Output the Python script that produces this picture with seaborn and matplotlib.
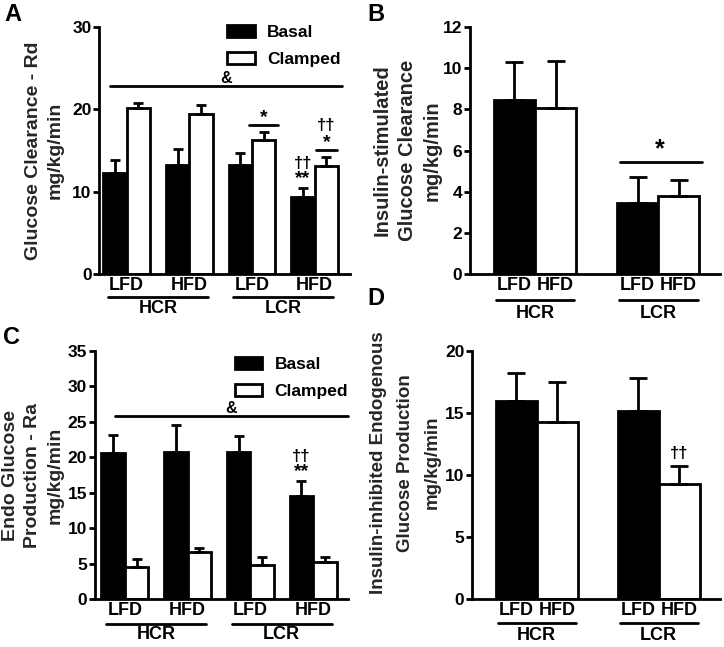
import pandas as pd
import matplotlib.pyplot as plt
import seaborn as sns

sns.set_style('ticks')
plt.rcParams['font.family'] = ['Liberation Sans', 'DejaVu Sans']
plt.rcParams['font.weight'] = 'bold'
plt.rcParams['axes.labelweight'] = 'bold'
plt.rcParams['axes.linewidth'] = 2
plt.rcParams['axes.edgecolor'] = 'black'
plt.rcParams['text.color'] = 'black'
plt.rcParams['xtick.color'] = 'black'
plt.rcParams['ytick.color'] = 'black'

# categories
groups = ['HCR-LFD', 'HCR-HFD', 'LCR-LFD', 'LCR-HFD']
diet_ticks = ['LFD', 'HFD', 'LFD', 'HFD']
lines = ['HCR', 'LCR']

# A: glucose clearance (Rd), mean and SEM
rd_basal = [12.3, 13.2, 13.2, 9.3]
rd_basal_err = [1.6, 2.0, 1.5, 1.1]
rd_clamped = [20.2, 19.5, 16.3, 13.1]
rd_clamped_err = [0.6, 1.1, 1.0, 1.1]

# B: insulin-stimulated glucose clearance
isgc_lfd = [8.44, 3.46]
isgc_lfd_err = [1.86, 1.26]
isgc_hfd = [8.09, 3.78]
isgc_hfd_err = [2.26, 0.78]

# C: endogenous glucose production (Ra)
ra_basal = [20.55, 20.8, 20.7, 14.5]
ra_basal_err = [2.55, 3.7, 2.3, 2.1]
ra_clamped = [4.6, 6.6, 4.8, 5.2]
ra_clamped_err = [1.0, 0.6, 1.1, 0.8]

# D: insulin-inhibited endogenous glucose production
iiegp_lfd = [15.95, 15.2]
iiegp_lfd_err = [2.25, 2.6]
iiegp_hfd = [14.3, 9.3]
iiegp_hfd_err = [3.2, 1.4]


def bars(ax, cats, hue_names, v1, v2, e1, e2, width, capsize):
    df = pd.DataFrame({
        'cat': cats + cats,
        'hue': [hue_names[0]] * len(cats) + [hue_names[1]] * len(cats),
        'val': v1 + v2,
    })
    sns.barplot(data=df, x='cat', y='val', hue='hue', order=cats,
                hue_order=hue_names, palette=['black', 'white'],
                saturation=1, edgecolor='black', linewidth=2, width=width,
                errorbar=None, legend=False, ax=ax)
    for cont, errs in zip(ax.containers, [e1, e2]):
        for bar, e in zip(cont, errs):
            ax.errorbar(bar.get_x() + bar.get_width() / 2, bar.get_height(),
                        yerr=[[0], [e]], fmt='none', ecolor='black',
                        elinewidth=2, capsize=capsize, capthick=2, zorder=3)


def style(ax, ylim, yticks, xlim):
    ax.set_ylim(*ylim)
    ax.set_yticks(yticks)
    ax.set_xlim(*xlim)
    sns.despine(ax=ax)
    ax.tick_params(axis='y', length=4, width=2, labelsize=12.5, pad=1.5)
    ax.tick_params(axis='x', length=0, labelsize=13, pad=2)
    ax.set_xlabel('')


def bold_ticks(ax):
    for t in ax.get_xticklabels() + ax.get_yticklabels():
        t.set_fontweight('bold')


def group_labels(ax, spans, names, yline, ytext):
    trans = ax.get_xaxis_transform()
    for (x0, x1), name in zip(spans, names):
        ax.plot([x0, x1], [yline, yline], color='black', lw=2,
                transform=trans, clip_on=False)
        ax.text((x0 + x1) / 2, ytext, name, transform=trans, ha='center',
                va='center', fontsize=13)


def bar_x(ax, hue_idx, cat_idx):
    b = ax.containers[hue_idx][cat_idx]
    return b.get_x() + b.get_width() / 2


def hline(ax, x0, x1, y):
    ax.plot([x0, x1], [y, y], color='black', lw=2, clip_on=False)


fig = plt.figure(figsize=(7.24, 6.47), dpi=100)
axA = fig.add_axes([0.137, 0.5765, 0.346, 0.3815])
axB = fig.add_axes([0.649, 0.5765, 0.345, 0.3815])
axC = fig.add_axes([0.131, 0.074, 0.349, 0.3835])
axD = fig.add_axes([0.652, 0.074, 0.342, 0.3835])

legend_kw = dict(loc='upper left', frameon=False, fontsize=12.5, borderpad=0,
                 borderaxespad=0, handlelength=1.6, handleheight=0.7,
                 handletextpad=0.7, labelspacing=0.7)

# ---- A
bars(axA, groups, ['Basal', 'Clamped'], rd_basal, rd_clamped,
     rd_basal_err, rd_clamped_err, 0.75, 3.6)
style(axA, (0, 30), [0, 10, 20, 30], (-0.44, 3.56))
axA.set_xticks(range(4), diet_ticks)
axA.set_ylabel('Glucose Clearance - Rd\nmg/kg/min', fontsize=14,
               va='center', linespacing=1.35)
axA.yaxis.set_label_coords(-0.219, 0.5)
axA.legend(axA.containers[:2], ['Basal', 'Clamped'],
           bbox_to_anchor=(0.51, 1.01), **legend_kw)
hline(axA, -0.27, 3.43, 22.8)
axA.text(1.58, 22.9, '&', ha='center', va='bottom', fontsize=11.5)
xc = bar_x(axA, 1, 2)
hline(axA, xc - 0.23, xc + 0.23, 18.1)
axA.text(xc, 18.0, '*', ha='center', va='bottom', fontsize=14)
xc = bar_x(axA, 1, 3)
hline(axA, xc - 0.17, xc + 0.17, 15.1)
axA.text(xc, 15.0, '*', ha='center', va='bottom', fontsize=14)
axA.text(xc, 18.1, '††', ha='center', va='center', fontsize=12)
xb = bar_x(axA, 0, 3)
axA.text(xb, 11.6, '**', ha='center', va='center', fontsize=14)
axA.text(xb, 13.4, '††', ha='center', va='center', fontsize=12)
group_labels(axA, [(-0.3, 1.3), (1.7, 3.3)], lines, -0.093, -0.138)
bold_ticks(axA)

# ---- B
bars(axB, lines, ['LFD', 'HFD'], isgc_lfd, isgc_hfd,
     isgc_lfd_err, isgc_hfd_err, 0.67, 6.5)
style(axB, (0, 12), range(0, 13, 2), (-0.53, 1.5))
axB.set_xticks([bar_x(axB, 0, 0), bar_x(axB, 1, 0),
                bar_x(axB, 0, 1), bar_x(axB, 1, 1)], diet_ticks)
axB.set_ylabel('Insulin-stimulated\nGlucose Clearance\nmg/kg/min',
               fontsize=14.5, va='center', linespacing=1.4)
axB.yaxis.set_label_coords(-0.25, 0.5)
hline(axB, 0.69, 1.36, 5.45)
axB.text(1.015, 5.5, '*', ha='center', va='bottom', fontsize=18)
group_labels(axB, [(-0.32, 0.32), (0.68, 1.32)], lines, -0.105, -0.158)
bold_ticks(axB)

# ---- C
bars(axC, groups, ['Basal', 'Clamped'], ra_basal, ra_clamped,
     ra_basal_err, ra_clamped_err, 0.75, 3.6)
style(axC, (0, 35), range(0, 36, 5), (-0.48, 3.55))
axC.set_xticks(range(4), diet_ticks)
axC.set_ylabel('Endo Glucose\nProduction - Ra\nmg/kg/min', fontsize=14,
               va='center', linespacing=1.4)
axC.yaxis.set_label_coords(-0.245, 0.5)
axC.legend(axC.containers[:2], ['Basal', 'Clamped'],
           bbox_to_anchor=(0.553, 0.977), **legend_kw)
hline(axC, -0.16, 3.55, 25.8)
axC.text(1.7, 25.9, '&', ha='center', va='bottom', fontsize=11.5)
xb = bar_x(axC, 0, 3)
axC.text(xb, 18.0, '**', ha='center', va='center', fontsize=14)
axC.text(xb, 20.1, '††', ha='center', va='center', fontsize=12)
group_labels(axC, [(-0.3, 1.3), (1.7, 3.3)], lines, -0.10, -0.141)
bold_ticks(axC)

# ---- D
bars(axD, lines, ['LFD', 'HFD'], iiegp_lfd, iiegp_hfd,
     iiegp_lfd_err, iiegp_hfd_err, 0.67, 6.5)
style(axD, (0, 20), range(0, 21, 5), (-0.53, 1.5))
axD.set_xticks([bar_x(axD, 0, 0), bar_x(axD, 1, 0),
                bar_x(axD, 0, 1), bar_x(axD, 1, 1)], diet_ticks)
axD.set_ylabel('Insulin-inhibited Endogenous\nGlucose Production\nmg/kg/min',
               fontsize=13.5, va='center', linespacing=1.75)
axD.yaxis.set_label_coords(-0.27, 0.55)
axD.text(bar_x(axD, 1, 1), 11.7, '††', ha='center', va='center', fontsize=12)
group_labels(axD, [(-0.32, 0.32), (0.68, 1.32)], lines, -0.097, -0.145)
bold_ticks(axD)

# panel letters
for letter, (x, y) in zip('ABCD', [(0.018, 0.978), (0.519, 0.978),
                                    (0.016, 0.478), (0.519, 0.539)]):
    fig.text(x, y, letter, fontsize=17, ha='center', va='center')

fig.savefig('out.png', dpi=100)
